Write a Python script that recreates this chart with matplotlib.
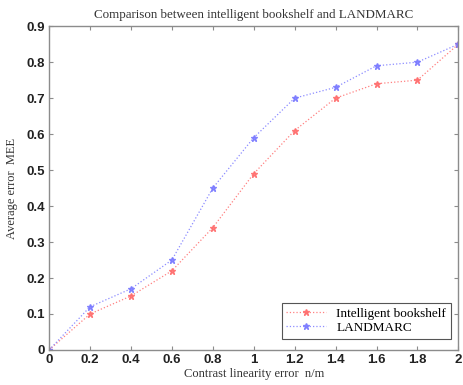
import matplotlib
matplotlib.use("Agg")
import matplotlib.pyplot as plt

# values
x_err = [0, 0.2, 0.4, 0.6, 0.8, 1.0, 1.2, 1.4, 1.6, 1.8, 2.0]
bookshelf = [0, 0.10, 0.15, 0.22, 0.34, 0.49, 0.61, 0.70, 0.74, 0.75, 0.85]
landmarc = [0, 0.12, 0.17, 0.25, 0.45, 0.59, 0.70, 0.73, 0.79, 0.80, 0.85]
x_ticks = [0, 0.2, 0.4, 0.6, 0.8, 1, 1.2, 1.4, 1.6, 1.8, 2]
y_ticks = [0, 0.1, 0.2, 0.3, 0.4, 0.5, 0.6, 0.7, 0.8, 0.9]

AXIS_GRAY = "#8c8c8c"
RED = "#ff6b6b"
BLUE = "#7878ff"
SERIF = ["Liberation Serif", "DejaVu Serif"]

fig = plt.figure(figsize=(4.63, 3.85), dpi=100)
ax = fig.add_axes([0.106, 0.091, 0.884, 0.841])

ax.plot(x_err, bookshelf, color=RED, linestyle=":", linewidth=0.9, marker="*",
        markersize=4.5, label="Intelligent bookshelf", alpha=0.85)
ax.plot(x_err, landmarc, color=BLUE, linestyle=":", linewidth=0.9, marker="*",
        markersize=4.5, label="LANDMARC", alpha=0.85)

ax.set_xlim(0, 2)
ax.set_ylim(0, 0.9)
ax.set_xticks(x_ticks)
ax.set_xticklabels([f"{t:g}" for t in x_ticks])
ax.set_yticks(y_ticks)
ax.set_yticklabels([f"{t:g}" for t in y_ticks])
ax.tick_params(direction="in", top=True, right=True, length=3, width=0.8,
               color=AXIS_GRAY, labelsize=9.5, pad=3)
for lab in ax.get_xticklabels() + ax.get_yticklabels():
    lab.set_fontweight("bold")
    lab.set_family(["Liberation Sans", "DejaVu Sans"])
    lab.set_color("#222222")
for spine in ax.spines.values():
    spine.set_color(AXIS_GRAY)
    spine.set_linewidth(1.0)

ax.set_title("Comparison between intelligent bookshelf and LANDMARC",
             family=SERIF, fontsize=9.4, color="#333333", pad=6)
ax.set_xlabel("Contrast linearity error  n/m", family=SERIF, fontsize=9,
              color="#333333", labelpad=1)
ax.set_ylabel("Average error  MEE", family=SERIF, fontsize=9,
              color="#333333", labelpad=6)

leg = ax.legend(loc="lower right", prop={"family": SERIF, "size": 9.5},
                fancybox=False, edgecolor="#555555", framealpha=1,
                handlelength=3.0, borderpad=0.35, labelspacing=0.15,
                bbox_to_anchor=(0.998, 0.015))
leg.get_frame().set_linewidth(0.8)

fig.savefig("out.png", dpi=100)
